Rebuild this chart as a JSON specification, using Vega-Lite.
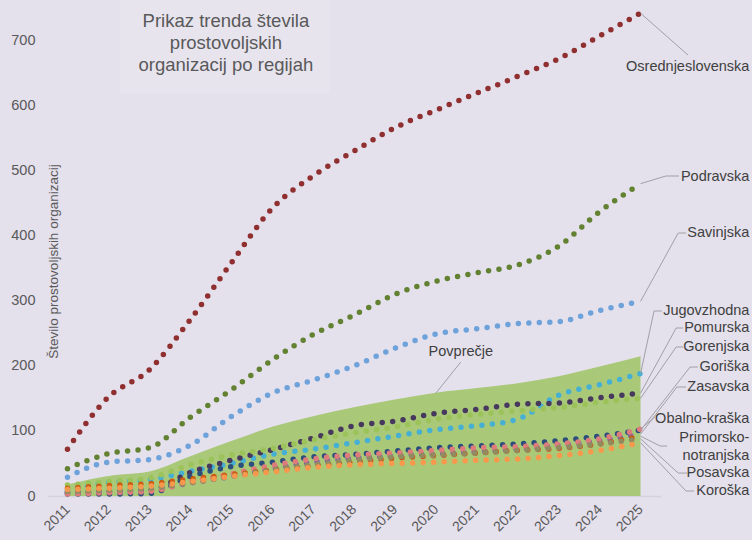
{
  "$schema": "https://vega.github.io/schema/vega-lite/v6.json",
  "width": 614,
  "height": 488,
  "autosize": {"type": "none"},
  "padding": {"left": 47, "top": 8, "right": 91, "bottom": 44},
  "background": "#e4e0ec",
  "config": {"view": {"stroke": null}, "font": "Liberation Sans"},
  "datasets": {
    "series": [
      {"region": "Osrednjeslovenska", "year": 2011, "value": 72}, {"region": "Osrednjeslovenska", "year": 2012, "value": 152}, {"region": "Osrednjeslovenska", "year": 2013, "value": 194}, {"region": "Osrednjeslovenska", "year": 2014, "value": 271}, {"region": "Osrednjeslovenska", "year": 2015, "value": 358}, {"region": "Osrednjeslovenska", "year": 2016, "value": 442}, {"region": "Osrednjeslovenska", "year": 2017, "value": 492}, {"region": "Osrednjeslovenska", "year": 2018, "value": 530}, {"region": "Osrednjeslovenska", "year": 2019, "value": 566}, {"region": "Osrednjeslovenska", "year": 2020, "value": 593}, {"region": "Osrednjeslovenska", "year": 2021, "value": 619}, {"region": "Osrednjeslovenska", "year": 2022, "value": 645}, {"region": "Osrednjeslovenska", "year": 2023, "value": 672}, {"region": "Osrednjeslovenska", "year": 2024, "value": 707}, {"region": "Osrednjeslovenska", "year": 2025, "value": 742},
      {"region": "Podravska", "year": 2011, "value": 42}, {"region": "Podravska", "year": 2012, "value": 65}, {"region": "Podravska", "year": 2013, "value": 74}, {"region": "Podravska", "year": 2014, "value": 121}, {"region": "Podravska", "year": 2015, "value": 163}, {"region": "Podravska", "year": 2016, "value": 209}, {"region": "Podravska", "year": 2017, "value": 248}, {"region": "Podravska", "year": 2018, "value": 278}, {"region": "Podravska", "year": 2019, "value": 310}, {"region": "Podravska", "year": 2020, "value": 330}, {"region": "Podravska", "year": 2021, "value": 343}, {"region": "Podravska", "year": 2022, "value": 355}, {"region": "Podravska", "year": 2023, "value": 384}, {"region": "Podravska", "year": 2024, "value": 437}, {"region": "Podravska", "year": 2025, "value": 480},
      {"region": "Savinjska", "year": 2011, "value": 29}, {"region": "Savinjska", "year": 2012, "value": 52}, {"region": "Savinjska", "year": 2013, "value": 56}, {"region": "Savinjska", "year": 2014, "value": 78}, {"region": "Savinjska", "year": 2015, "value": 122}, {"region": "Savinjska", "year": 2016, "value": 158}, {"region": "Savinjska", "year": 2017, "value": 178}, {"region": "Savinjska", "year": 2018, "value": 200}, {"region": "Savinjska", "year": 2019, "value": 227}, {"region": "Savinjska", "year": 2020, "value": 249}, {"region": "Savinjska", "year": 2021, "value": 257}, {"region": "Savinjska", "year": 2022, "value": 265}, {"region": "Savinjska", "year": 2023, "value": 268}, {"region": "Savinjska", "year": 2024, "value": 285}, {"region": "Savinjska", "year": 2025, "value": 299},
      {"region": "Jugovzhodna", "year": 2011, "value": 9}, {"region": "Jugovzhodna", "year": 2012, "value": 21}, {"region": "Jugovzhodna", "year": 2013, "value": 25}, {"region": "Jugovzhodna", "year": 2014, "value": 38}, {"region": "Jugovzhodna", "year": 2015, "value": 50}, {"region": "Jugovzhodna", "year": 2016, "value": 64}, {"region": "Jugovzhodna", "year": 2017, "value": 72}, {"region": "Jugovzhodna", "year": 2018, "value": 82}, {"region": "Jugovzhodna", "year": 2019, "value": 92}, {"region": "Jugovzhodna", "year": 2020, "value": 102}, {"region": "Jugovzhodna", "year": 2021, "value": 108}, {"region": "Jugovzhodna", "year": 2022, "value": 118}, {"region": "Jugovzhodna", "year": 2023, "value": 155}, {"region": "Jugovzhodna", "year": 2024, "value": 171}, {"region": "Jugovzhodna", "year": 2025, "value": 188},
      {"region": "Pomurska", "year": 2011, "value": 5}, {"region": "Pomurska", "year": 2012, "value": 7}, {"region": "Pomurska", "year": 2013, "value": 9}, {"region": "Pomurska", "year": 2014, "value": 36}, {"region": "Pomurska", "year": 2015, "value": 55}, {"region": "Pomurska", "year": 2016, "value": 71}, {"region": "Pomurska", "year": 2017, "value": 89}, {"region": "Pomurska", "year": 2018, "value": 108}, {"region": "Pomurska", "year": 2019, "value": 115}, {"region": "Pomurska", "year": 2020, "value": 127}, {"region": "Pomurska", "year": 2021, "value": 133}, {"region": "Pomurska", "year": 2022, "value": 141}, {"region": "Pomurska", "year": 2023, "value": 143}, {"region": "Pomurska", "year": 2024, "value": 151}, {"region": "Pomurska", "year": 2025, "value": 158},
      {"region": "Gorenjska", "year": 2011, "value": 17}, {"region": "Gorenjska", "year": 2012, "value": 22}, {"region": "Gorenjska", "year": 2013, "value": 28}, {"region": "Gorenjska", "year": 2014, "value": 48}, {"region": "Gorenjska", "year": 2015, "value": 63}, {"region": "Gorenjska", "year": 2016, "value": 73}, {"region": "Gorenjska", "year": 2017, "value": 86}, {"region": "Gorenjska", "year": 2018, "value": 97}, {"region": "Gorenjska", "year": 2019, "value": 106}, {"region": "Gorenjska", "year": 2020, "value": 118}, {"region": "Gorenjska", "year": 2021, "value": 125}, {"region": "Gorenjska", "year": 2022, "value": 131}, {"region": "Gorenjska", "year": 2023, "value": 136}, {"region": "Gorenjska", "year": 2024, "value": 144}, {"region": "Gorenjska", "year": 2025, "value": 150},
      {"region": "Goriška", "year": 2011, "value": 3}, {"region": "Goriška", "year": 2012, "value": 3}, {"region": "Goriška", "year": 2013, "value": 4}, {"region": "Goriška", "year": 2014, "value": 30}, {"region": "Goriška", "year": 2015, "value": 45}, {"region": "Goriška", "year": 2016, "value": 52}, {"region": "Goriška", "year": 2017, "value": 60}, {"region": "Goriška", "year": 2018, "value": 64}, {"region": "Goriška", "year": 2019, "value": 69}, {"region": "Goriška", "year": 2020, "value": 74}, {"region": "Goriška", "year": 2021, "value": 77}, {"region": "Goriška", "year": 2022, "value": 80}, {"region": "Goriška", "year": 2023, "value": 85}, {"region": "Goriška", "year": 2024, "value": 92}, {"region": "Goriška", "year": 2025, "value": 101},
      {"region": "Zasavska", "year": 2011, "value": 5}, {"region": "Zasavska", "year": 2012, "value": 7}, {"region": "Zasavska", "year": 2013, "value": 9}, {"region": "Zasavska", "year": 2014, "value": 20}, {"region": "Zasavska", "year": 2015, "value": 30}, {"region": "Zasavska", "year": 2016, "value": 42}, {"region": "Zasavska", "year": 2017, "value": 52}, {"region": "Zasavska", "year": 2018, "value": 58}, {"region": "Zasavska", "year": 2019, "value": 62}, {"region": "Zasavska", "year": 2020, "value": 65}, {"region": "Zasavska", "year": 2021, "value": 68}, {"region": "Zasavska", "year": 2022, "value": 72}, {"region": "Zasavska", "year": 2023, "value": 78}, {"region": "Zasavska", "year": 2024, "value": 85}, {"region": "Zasavska", "year": 2025, "value": 95},
      {"region": "Obalno-kraška", "year": 2011, "value": 3}, {"region": "Obalno-kraška", "year": 2012, "value": 5}, {"region": "Obalno-kraška", "year": 2013, "value": 7}, {"region": "Obalno-kraška", "year": 2014, "value": 22}, {"region": "Obalno-kraška", "year": 2015, "value": 34}, {"region": "Obalno-kraška", "year": 2016, "value": 47}, {"region": "Obalno-kraška", "year": 2017, "value": 57}, {"region": "Obalno-kraška", "year": 2018, "value": 63}, {"region": "Obalno-kraška", "year": 2019, "value": 66}, {"region": "Obalno-kraška", "year": 2020, "value": 70}, {"region": "Obalno-kraška", "year": 2021, "value": 74}, {"region": "Obalno-kraška", "year": 2022, "value": 76}, {"region": "Obalno-kraška", "year": 2023, "value": 80}, {"region": "Obalno-kraška", "year": 2024, "value": 88}, {"region": "Obalno-kraška", "year": 2025, "value": 103},
      {"region": "Primorsko-notranjska", "year": 2011, "value": 12}, {"region": "Primorsko-notranjska", "year": 2012, "value": 16}, {"region": "Primorsko-notranjska", "year": 2013, "value": 19}, {"region": "Primorsko-notranjska", "year": 2014, "value": 26}, {"region": "Primorsko-notranjska", "year": 2015, "value": 33}, {"region": "Primorsko-notranjska", "year": 2016, "value": 40}, {"region": "Primorsko-notranjska", "year": 2017, "value": 46}, {"region": "Primorsko-notranjska", "year": 2018, "value": 52}, {"region": "Primorsko-notranjska", "year": 2019, "value": 58}, {"region": "Primorsko-notranjska", "year": 2020, "value": 62}, {"region": "Primorsko-notranjska", "year": 2021, "value": 66}, {"region": "Primorsko-notranjska", "year": 2022, "value": 70}, {"region": "Primorsko-notranjska", "year": 2023, "value": 73}, {"region": "Primorsko-notranjska", "year": 2024, "value": 80}, {"region": "Primorsko-notranjska", "year": 2025, "value": 92},
      {"region": "Posavska", "year": 2011, "value": 7}, {"region": "Posavska", "year": 2012, "value": 9}, {"region": "Posavska", "year": 2013, "value": 12}, {"region": "Posavska", "year": 2014, "value": 20}, {"region": "Posavska", "year": 2015, "value": 30}, {"region": "Posavska", "year": 2016, "value": 40}, {"region": "Posavska", "year": 2017, "value": 48}, {"region": "Posavska", "year": 2018, "value": 55}, {"region": "Posavska", "year": 2019, "value": 60}, {"region": "Posavska", "year": 2020, "value": 63}, {"region": "Posavska", "year": 2021, "value": 66}, {"region": "Posavska", "year": 2022, "value": 70}, {"region": "Posavska", "year": 2023, "value": 74}, {"region": "Posavska", "year": 2024, "value": 80}, {"region": "Posavska", "year": 2025, "value": 88},
      {"region": "Koroška", "year": 2011, "value": 10}, {"region": "Koroška", "year": 2012, "value": 12}, {"region": "Koroška", "year": 2013, "value": 15}, {"region": "Koroška", "year": 2014, "value": 22}, {"region": "Koroška", "year": 2015, "value": 30}, {"region": "Koroška", "year": 2016, "value": 37}, {"region": "Koroška", "year": 2017, "value": 44}, {"region": "Koroška", "year": 2018, "value": 48}, {"region": "Koroška", "year": 2019, "value": 50}, {"region": "Koroška", "year": 2020, "value": 52}, {"region": "Koroška", "year": 2021, "value": 55}, {"region": "Koroška", "year": 2022, "value": 57}, {"region": "Koroška", "year": 2023, "value": 62}, {"region": "Koroška", "year": 2024, "value": 70}, {"region": "Koroška", "year": 2025, "value": 82}
    ],
    "leaders": [
      {"name": "Osrednjeslovenska", "px": 2025, "py": 742, "ex": 2026.16, "ey": 677.7, "hx": 2026.16},
      {"name": "Podravska", "px": 2025, "py": 480, "ex": 2025.62, "ey": 491.8, "hx": 2025.94},
      {"name": "Savinjska", "px": 2025, "py": 299, "ex": 2025.92, "ey": 404.2, "hx": 2026.11},
      {"name": "Jugovzhodna", "px": 2025, "py": 188, "ex": 2025.33, "ey": 284.3, "hx": 2025.52},
      {"name": "Pomurska", "px": 2025, "py": 158, "ex": 2025.87, "ey": 258.2, "hx": 2026.04},
      {"name": "Gorenjska", "px": 2025, "py": 150, "ex": 2025.87, "ey": 229, "hx": 2026.04},
      {"name": "Goriška", "px": 2025, "py": 101, "ex": 2026.21, "ey": 198.2, "hx": 2026.4},
      {"name": "Zasavska", "px": 2025, "py": 95, "ex": 2025.89, "ey": 167.5, "hx": 2026.11},
      {"name": "Obalno-kraška", "px": 2025, "py": 103, "ex": 2025.35, "ey": 121.4, "hx": 2025.35},
      {"name": "Primorsko-notranjska", "px": 2025, "py": 92, "ex": 2025.48, "ey": 76.8, "hx": 2025.65},
      {"name": "Posavska", "px": 2025, "py": 88, "ex": 2025.92, "ey": 35.3, "hx": 2026.14},
      {"name": "Koroška", "px": 2025, "py": 82, "ex": 2026.11, "ey": 7.7, "hx": 2026.31},
      {"name": "Povprečje", "px": 2020, "py": 158, "ex": 2020.61, "ey": 206, "hx": 2020.61}
    ],
    "labels": [
      {"text": "Osrednjeslovenska", "tx": 2027.66, "ty": 659.3},
      {"text": "Podravska", "tx": 2027.66, "ty": 490.2},
      {"text": "Savinjska", "tx": 2027.66, "ty": 404.2},
      {"text": "Jugovzhodna", "tx": 2027.66, "ty": 284.3},
      {"text": "Pomurska", "tx": 2027.66, "ty": 258.2},
      {"text": "Gorenjska", "tx": 2027.66, "ty": 229},
      {"text": "Goriška", "tx": 2027.66, "ty": 198.2},
      {"text": "Zasavska", "tx": 2027.66, "ty": 167.5},
      {"text": "Obalno-kraška", "tx": 2027.66, "ty": 118.3},
      {"text": "Primorsko-", "tx": 2027.66, "ty": 89.1},
      {"text": "notranjska", "tx": 2027.66, "ty": 61.5},
      {"text": "Posavska", "tx": 2027.66, "ty": 35.3},
      {"text": "Koroška", "tx": 2027.66, "ty": 7.7}
    ],
    "avglabel": [{"text": "Povprečje", "tx": 2020.61, "ty": 221}],
    "heading": [{"text": "Prikaz trenda števila\nprostovoljskih\norganizacij po regijah", "tx": 2014.87, "ty": 730}]
  },
  "layer": [
    {
      "data": {"values": [{}]},
      "mark": {"type": "rect", "color": "#e7e4ee"},
      "encoding": {
        "x": {
          "datum": 2012.27, "type": "quantitative",
          "scale": {"domain": [2010.5, 2025.5], "nice": false, "zero": false},
          "axis": {
            "values": [2011, 2012, 2013, 2014, 2015, 2016, 2017, 2018, 2019, 2020, 2021, 2022, 2023, 2024, 2025],
            "format": "d", "title": null, "grid": false, "ticks": false,
            "domain": true, "domainColor": "#d4d2da", "domainWidth": 1.5,
            "labelAngle": -45, "labelAlign": "right", "labelBaseline": "middle",
            "labelPadding": 11, "labelFontSize": 14, "labelColor": "#595959", "labelFlush": false, "labelOverlap": false
          }
        },
        "x2": {"datum": 2017.41},
        "y": {
          "datum": 619, "type": "quantitative",
          "scale": {"domain": [0, 750], "nice": false, "zero": false},
          "axis": {
            "values": [0, 100, 200, 300, 400, 500, 600, 700],
            "title": "Število prostovoljskih organizacij",
            "grid": false, "ticks": false, "domain": false,
            "labelFontSize": 14.5, "labelColor": "#595959", "labelPadding": 12,
            "titleFontSize": 13.5, "titleFontWeight": "normal", "titleColor": "#595959",
            "titleX": 6, "titleY": 253, "titleAngle": -90, "titleAlign": "center", "titleBaseline": "middle"
          }
        },
        "y2": {"datum": 763}
      }
    },
    {
      "data": {"name": "heading"},
      "mark": {"type": "text", "align": "center", "baseline": "middle", "lineBreak": "\n", "lineHeight": 22, "fontSize": 18.5, "color": "#595959"},
      "encoding": {
        "x": {"field": "tx", "type": "quantitative", "scale": {"domain": [2010.5, 2025.5], "nice": false, "zero": false}},
        "y": {"field": "ty", "type": "quantitative", "scale": {"domain": [0, 750], "nice": false, "zero": false}},
        "text": {"field": "text"}
      }
    },
    {
      "data": {"name": "series"},
      "mark": {"type": "area", "interpolate": "monotone", "color": "#a9c878"},
      "encoding": {
        "x": {"field": "year", "type": "quantitative", "scale": {"domain": [2010.5, 2025.5], "nice": false, "zero": false}},
        "y": {"aggregate": "mean", "field": "value", "type": "quantitative", "scale": {"domain": [0, 750], "nice": false, "zero": false}}
      }
    },
    {
      "data": {"name": "series"},
      "mark": {"type": "line", "interpolate": "monotone", "strokeDash": [0, 10.5], "strokeCap": "round", "strokeWidth": 5.5},
      "encoding": {
        "x": {"field": "year", "type": "quantitative", "scale": {"domain": [2010.5, 2025.5], "nice": false, "zero": false}},
        "y": {"field": "value", "type": "quantitative", "scale": {"domain": [0, 750], "nice": false, "zero": false}},
        "color": {
          "field": "region", "type": "nominal", "legend": null,
          "scale": {
            "domain": ["Osrednjeslovenska", "Podravska", "Savinjska", "Jugovzhodna", "Pomurska", "Gorenjska", "Goriška", "Zasavska", "Obalno-kraška", "Primorsko-notranjska", "Posavska", "Koroška"],
            "range": ["#8f2f2f", "#628232", "#6ea2da", "#45b0d4", "#47385e", "#9cc25a", "#2b4e7c", "#8064a2", "#de7c7c", "#cc5c10", "#948a60", "#f8984c"]
          }
        }
      }
    },
    {
      "data": {"name": "leaders"},
      "mark": {"type": "rule", "color": "#a0a0a6", "strokeWidth": 1},
      "encoding": {
        "x": {"field": "px", "type": "quantitative", "scale": {"domain": [2010.5, 2025.5], "nice": false, "zero": false}},
        "y": {"field": "py", "type": "quantitative", "scale": {"domain": [0, 750], "nice": false, "zero": false}},
        "x2": {"field": "ex"},
        "y2": {"field": "ey"}
      }
    },
    {
      "data": {"name": "leaders"},
      "mark": {"type": "rule", "color": "#a0a0a6", "strokeWidth": 1},
      "encoding": {
        "x": {"field": "ex", "type": "quantitative", "scale": {"domain": [2010.5, 2025.5], "nice": false, "zero": false}},
        "y": {"field": "ey", "type": "quantitative", "scale": {"domain": [0, 750], "nice": false, "zero": false}},
        "x2": {"field": "hx"}
      }
    },
    {
      "data": {"name": "labels"},
      "mark": {"type": "text", "align": "right", "baseline": "middle", "fontSize": 14.5, "color": "#404040"},
      "encoding": {
        "x": {"field": "tx", "type": "quantitative", "scale": {"domain": [2010.5, 2025.5], "nice": false, "zero": false}},
        "y": {"field": "ty", "type": "quantitative", "scale": {"domain": [0, 750], "nice": false, "zero": false}},
        "text": {"field": "text"}
      }
    },
    {
      "data": {"name": "avglabel"},
      "mark": {"type": "text", "align": "center", "baseline": "middle", "fontSize": 14.5, "color": "#404040"},
      "encoding": {
        "x": {"field": "tx", "type": "quantitative", "scale": {"domain": [2010.5, 2025.5], "nice": false, "zero": false}},
        "y": {"field": "ty", "type": "quantitative", "scale": {"domain": [0, 750], "nice": false, "zero": false}},
        "text": {"field": "text"}
      }
    }
  ]
}
